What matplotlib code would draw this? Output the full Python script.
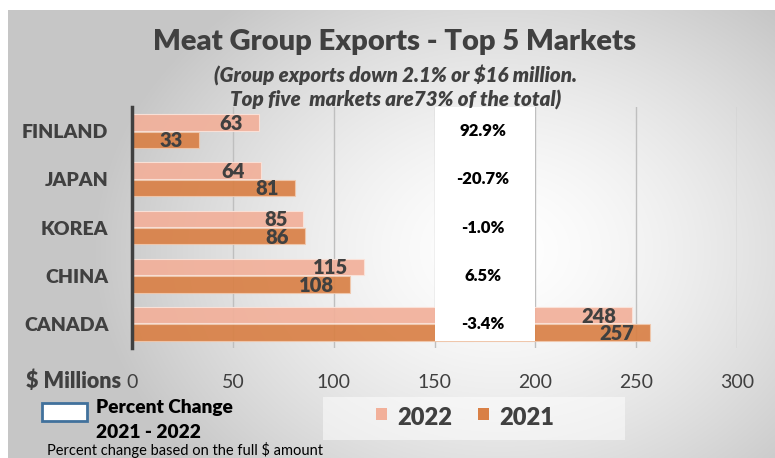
import numpy as np
import matplotlib
matplotlib.use("Agg")
import matplotlib.pyplot as plt
from matplotlib.patches import Rectangle

markets = ["FINLAND", "JAPAN", "KOREA", "CHINA", "CANADA"]
exports_2022 = [63, 64, 85, 115, 248]
exports_2021 = [33, 81, 86, 108, 257]
pct_change = ["92.9%", "-20.7%", "-1.0%", "6.5%", "-3.4%"]
xticks = [0, 50, 100, 150, 200, 250, 300]

W, H = 775, 458
plt.rcParams['font.family'] = ['Lato', 'DejaVu Sans']
grey = '#404040'
c22 = '#f2b09a'
c21 = '#d98046'
BOLD = 800

fig = plt.figure(figsize=(W / 100, H / 100), dpi=100)
fig.patch.set_facecolor('white')


def fx(x):
    return x / W


def fy(y):
    return 1 - y / H


# radial grey background
bg = fig.add_axes([fx(8), 0, 1 - fx(8), 1 - 10 / H], zorder=0)
yy, xx = np.mgrid[10:H, 8:W]
d = np.sqrt(((xx - 500) / 380.0) ** 2 + ((yy - 250) / 300.0) ** 2)
val = np.clip(1 - 0.2 * d ** 1.5, 0.78, 1)
bg.imshow(np.dstack([val, val, val]), aspect='auto', extent=[0, 1, 0, 1])
bg.axis('off')

# main chart
ax = fig.add_axes([fx(132), fy(348), fx(737) - fx(132), (348 - 107) / H], zorder=1)
ax.patch.set_alpha(0)
pos = np.arange(len(markets))
ax.barh(pos - 0.18, exports_2022, height=0.34, color=c22, alpha=0.92,
        edgecolor='#fbe3da', lw=0.8, zorder=2)
ax.barh(pos + 0.18, exports_2021, height=0.34, color=c21, alpha=0.92,
        edgecolor='#f0c8ad', lw=0.8, zorder=2)

for i in range(len(markets)):
    ax.text(exports_2022[i] - 8, pos[i] - 0.16, str(exports_2022[i]), ha='right', va='center',
            fontsize=14.5, fontweight=BOLD, color=grey, zorder=4)
    ax.text(exports_2021[i] - 8, pos[i] + 0.2, str(exports_2021[i]), ha='right', va='center',
            fontsize=14.5, fontweight=BOLD, color=grey, zorder=4)

# percent change column
ax.add_patch(Rectangle((150, -0.5), 50, 4.86, facecolor='white', edgecolor='none', zorder=3))
for i, p in enumerate(pct_change):
    ax.text(174, pos[i], p, ha='center', va='center', fontsize=12,
            fontweight=BOLD, color='black', zorder=5)

ax.set_xlim(0, 300)
ax.set_ylim(4.5, -0.5)
ax.set_xticks(xticks)
ax.set_xticklabels([str(t) for t in xticks], fontsize=14, color=grey)
ax.set_yticks(pos)
ax.set_yticklabels(markets, fontsize=14, fontweight=BOLD, color=grey)
ax.tick_params(axis='x', length=0, pad=19)
ax.tick_params(axis='y', length=0, pad=17)
ax.grid(axis='x', color='#bfbfbf', lw=1, zorder=0.5)
ax.set_axisbelow(True)
for s in ['top', 'right', 'bottom']:
    ax.spines[s].set_visible(False)
ax.spines['left'].set_color(grey)
ax.spines['left'].set_linewidth(2.5)
ax.spines['left'].set_zorder(6)

# titles
fig.text(fx(395), fy(42), "Meat Group Exports - Top 5 Markets", ha='center', va='center',
         fontsize=21, fontweight=BOLD, color=grey)
fig.text(fx(395), fy(75), "(Group exports down 2.1% or $16 million.", ha='center', va='center',
         fontsize=14.8, fontweight=BOLD, style='italic', color=grey)
fig.text(fx(396), fy(100), "Top five  markets are73% of the total)", ha='center', va='center',
         fontsize=14.8, fontweight=BOLD, style='italic', color=grey)

fig.text(fx(26), fy(381), "$ Millions", ha='left', va='center', fontsize=15.5,
         fontweight=BOLD, color=grey)

# percent change legend
fig.patches.append(Rectangle((fx(42), fy(421)), 45 / W, 18 / H, transform=fig.transFigure,
                             facecolor='white', edgecolor='#41719c', lw=2, zorder=3))
fig.text(fx(96), fy(408), "Percent Change", ha='left', va='center', fontsize=13.8,
         fontweight=BOLD, color='black')
fig.text(fx(96), fy(433), "2021 - 2022", ha='left', va='center', fontsize=13.8,
         fontweight=BOLD, color='black')
fig.text(fx(47), fy(450), "Percent change based on the full $ amount", ha='left', va='center',
         fontsize=10.5, color='black')

# series legend
fig.patches.append(Rectangle((fx(323), fy(440)), 302 / W, 43 / H, transform=fig.transFigure,
                             facecolor='white', alpha=0.5, edgecolor='none', zorder=2))
for x0, col, lab in [(376, c22, "2022"), (478, c21, "2021")]:
    fig.patches.append(Rectangle((fx(x0), fy(420)), 11 / W, 12 / H, transform=fig.transFigure,
                                 facecolor=col, edgecolor='none', zorder=3))
    fig.text(fx(x0 + 21), fy(418), lab, ha='left', va='center', fontsize=17,
             fontweight=BOLD, color=grey)

fig.savefig("out.png", dpi=100)
